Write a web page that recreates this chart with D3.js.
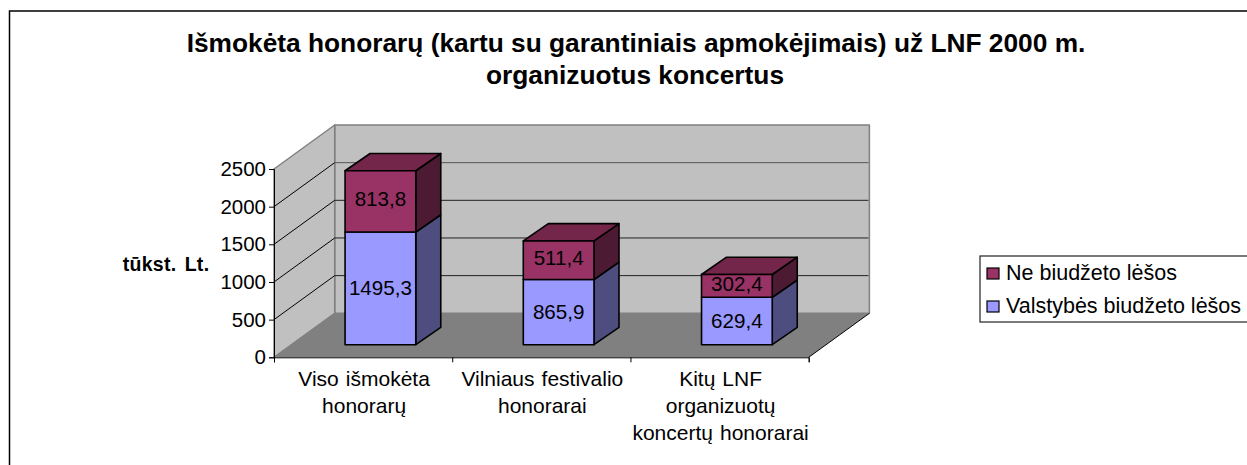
<!DOCTYPE html>
<html><head><meta charset="utf-8">
<style>html,body{margin:0;padding:0;background:#fff;overflow:hidden}svg{display:block}text{font-family:"Liberation Sans",Arial,sans-serif;fill:#000}</style>
<script src="https://cdn.jsdelivr.net/npm/d3@7"></script></head><body><script>
const categories=[["Viso išmokėta","honorarų"],["Vilniaus festivalio","honorarai"],["Kitų LNF","organizuotų","koncertų honorarai"]];
const stateFunds=[1495.3,865.9,629.4];
const otherFunds=[813.8,511.4,302.4];
const valueLabels=[["1495,3","813,8"],["865,9","511,4"],["629,4","302,4"]];
const seriesNames=["Ne biudžeto lėšos","Valstybės biudžeto lėšos"];
const titleLines=["Išmokėta honorarų (kartu su garantiniais apmokėjimais) už LNF 2000 m.","organizuotus koncertus"];
const yTicks=[0,500,1000,1500,2000,2500];
const yLabel="tūkst. Lt.";

const W=1247,H=465;
const svg=d3.select("body").append("svg").attr("width",W).attr("height",H);
const x=d3.scaleBand().domain(d3.range(categories.length)).range([274,808.7]);
const y=d3.scaleLinear().domain([0,2500]).range([357.3,169]);
const dx=60.7,dy=-44;            // full depth of the 3-D box
const bdx=25,bdy=-17.3;          // depth of a bar
const fx=17.3,fy=-12.6;          // shift of a bar's front face from the axis plane
const barW=70.7;
const [x0,x1]=x.range(),y0=y(0),yTop=y(2500);
const poly=(pts,fill,stroke,sw)=>svg.append("polygon").attr("points",pts.map(p=>p.join(",")).join(" ")).attr("fill",fill).attr("stroke",stroke||"none").attr("stroke-width",sw||0).attr("stroke-linejoin","round");
const line=(a,b,c,w)=>svg.append("line").attr("x1",a[0]).attr("y1",a[1]).attr("x2",b[0]).attr("y2",b[1]).attr("stroke",c).attr("stroke-width",w);

// outer frame
svg.append("rect").attr("x",9.5).attr("y",11).attr("width",W+20).attr("height",H+20).attr("fill","#fff").attr("stroke","#000").attr("stroke-width",1.5);

// walls and floor
poly([[x0+dx,yTop+dy],[x1+dx,yTop+dy],[x1+dx,y0+dy],[x0+dx,y0+dy]],"#c0c0c0","#808080",1.5);
poly([[x0,y0],[x0,yTop],[x0+dx,yTop+dy],[x0+dx,y0+dy]],"#c0c0c0","#808080",1.5);
poly([[x0,y0],[x1,y0],[x1+dx,y0+dy],[x0+dx,y0+dy]],"#808080");

// gridlines
yTicks.slice(1,-1).forEach(t=>{
  line([x0,y(t)],[x0+dx,y(t)+dy],"#000",1);
  line([x0+dx,y(t)+dy],[x1+dx-1,y(t)+dy],t>=2000?"#555":"#222",1);
});
line([x0,y0],[x0+dx,y0+dy],"#808080",1);

// bars
const dark1="#4d4d80",red="#993366",redTop="#732649",redSide="#4d1a33";
categories.forEach((c,i)=>{
  const l=x(i)+x.bandwidth()/2-barW/2+fx,r=l+barW;
  const by=v=>y(v)+fy;
  const a=by(0),b=by(stateFunds[i]),t=by(stateFunds[i]+otherFunds[i]);
  const s="#000",w=1.6;
  poly([[r,a],[r+bdx,a+bdy],[r+bdx,b+bdy],[r,b]],dark1,s,w);
  poly([[r,b],[r+bdx,b+bdy],[r+bdx,t+bdy],[r,t]],redSide,s,w);
  poly([[l,t],[r,t],[r+bdx,t+bdy],[l+bdx,t+bdy]],redTop,s,w);
  poly([[l,a],[r,a],[r,b],[l,b]],"#9999ff",s,w);
  poly([[l,b],[r,b],[r,t],[l,t]],red,s,w);
  const cx=(l+r)/2;
  svg.append("text").attr("x",cx).attr("y",(a+b)/2+6.7).attr("text-anchor","middle").attr("font-size",20.6).text(valueLabels[i][0]);
  svg.append("text").attr("x",cx).attr("y",(b+t)/2+5).attr("text-anchor","middle").attr("font-size",20.6).text(valueLabels[i][1]);
});

// axes
const yAxis=d3.axisLeft(y).tickValues(yTicks).tickSize(5).tickPadding(3).tickFormat(d3.format("d"));
const gy=svg.append("g").attr("transform",`translate(${x0},0)`).call(yAxis);
gy.select(".domain").attr("stroke","#000");
gy.selectAll("line").attr("stroke","#000");
gy.selectAll("text").attr("font-size",20.5).attr("font-family",'"Liberation Sans"').attr("fill","#000");
const xEdges=d3.scaleLinear().domain([0,3]).range([x0,x1]);
const gx=svg.append("g").attr("transform",`translate(0,${y0})`).call(d3.axisBottom(xEdges).tickValues([0,1,2,3]).tickSize(5).tickFormat(""));
gx.select(".domain").attr("stroke","#000");
gx.selectAll("line").attr("stroke","#000");
line([x1,y0],[x1+dx,y0+dy],"#000",1);

categories.forEach((c,i)=>{
  c.forEach((s,j)=>svg.append("text").attr("x",x(i)+x.bandwidth()/2+1).attr("y",386+j*27).attr("text-anchor","middle").attr("font-size",21).attr("word-spacing",1.2).text(s));
});

// titles
titleLines.forEach((s,j)=>svg.append("text").attr("x",636-j).attr("y",52+j*32).attr("text-anchor","middle").attr("font-size",26.3).attr("font-weight","bold").text(s));
svg.append("text").attr("x",166).attr("y",271).attr("text-anchor","middle").attr("font-size",19.5).attr("font-weight","bold").attr("letter-spacing",0.3).attr("word-spacing",2.5).text(yLabel);

// legend
svg.append("rect").attr("x",980).attr("y",256).attr("width",W+10).attr("height",66).attr("fill","#fff").attr("stroke","#222").attr("stroke-width",1.2);
[red,"#9999ff"].forEach((col,i)=>{
  const ly=273.5+i*33;
  svg.append("rect").attr("x",987).attr("y",ly-5.5).attr("width",12).attr("height",11).attr("fill",col).attr("stroke","#000").attr("stroke-width",1.2);
  svg.append("text").attr("x",1006).attr("y",ly+6).attr("font-size",21.5).text(seriesNames[i]);
});
</script></body></html>
